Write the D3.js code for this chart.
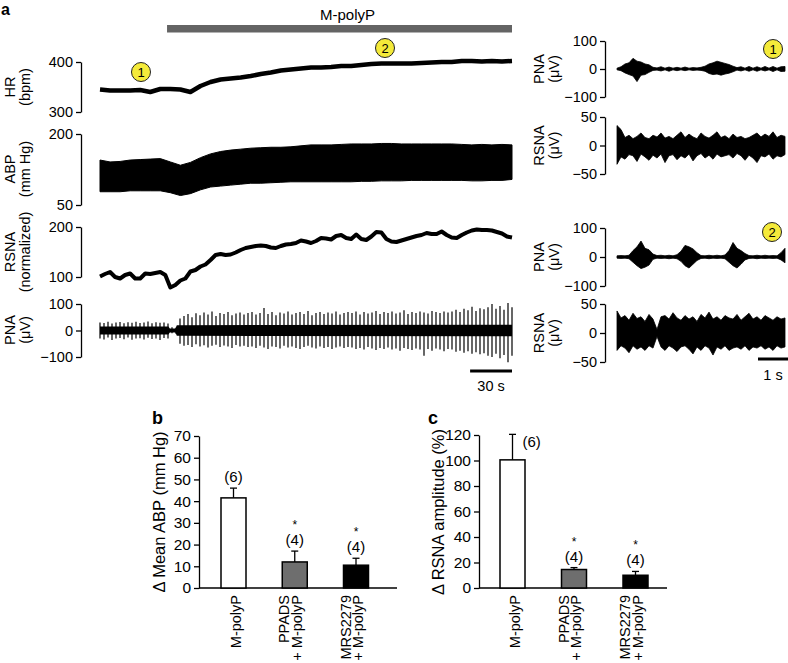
<!DOCTYPE html>
<html><head><meta charset="utf-8">
<script src="https://cdn.jsdelivr.net/npm/d3@7"></script>
<style>
body{margin:0;background:#fff;}
svg{display:block;font-family:"Liberation Sans",Arial,Helvetica,sans-serif;}
</style></head><body>
<svg id="fig" width="788" height="663"></svg>
<script>
// ---------------- DATA ----------------
const totalSec = 295;          // left traces span (s)
const drugStart = 48;          // M-polyP start (s)
const rightSec = 5.7;          // right traces span (s)

// HR (bpm), evenly sampled over totalSec
const hrVals = [345,343,343,343,344,340,346,346,345,340,352,360,365,367,369,372,376,379,383,385,387,389,389,390,392,392,394,396,397,397,397,397,398,399,400,400,402,402,401,402,401,402];

// ABP envelope (mm Hg)
const abpHi = [145,141,142,145,146,147,148,141,134,140,150,158,163,166,168,170,171,172,172,173,175,177,177,177,178,179,179,179,180,180,179,179,179,179,179,179,178,177,178,177,178,177];
const abpLo = [78,78,78,80,80,80,80,76,70,74,82,88,90,92,94,96,96,97,98,99,99,99,99,99,99,99,100,100,101,101,101,102,102,102,102,102,102,101,101,102,102,104];

// RSNA integrated (normalized)
const rsnaNorm = [101,106,110,100,97,104,107,97,97,107,106,108,110,104,79,84,93,97,111,114,121,125,134,144,146,144,145,149,154,158,160,162,163,162,159,158,162,165,166,168,173,171,168,172,178,177,175,182,184,178,176,185,176,174,181,190,189,176,171,170,173,176,179,182,184,188,186,186,191,184,179,178,184,189,193,195,194,194,193,190,187,181,179];

// PNA (µV) burst peaks, left trace
const pnaUp = [30,28,33,26,30,32,27,31,29,33,28,30,34,27,31,29,30,26,
  12,10,
  45,55,62,50,65,58,68,60,72,55,66,62,70,58,64,68,60,66,
  70,60,66,85,62,70,58,68,64,72,60,66,70,62,74,58,66,70,62,68,64,72,60,66,70,
  66,72,60,70,64,68,74,62,70,66,72,64,68,76,62,70,66,72,68,64,74,70,66,72,68,
  72,78,70,82,76,90,74,84,80,88,100,82,92,78,104,88];
const pnaDown = [-30,-34,-26,-36,-30,-28,-33,-26,-35,-30,-29,-34,-27,-32,-30,-36,-28,-30,
  -10,-12,
  -50,-58,-55,-62,-52,-60,-56,-64,-58,-54,-62,-57,-60,-66,-55,-60,-58,-62,
  -60,-66,-58,-64,-70,-60,-62,-68,-58,-64,-60,-66,-70,-62,-58,-64,-68,-60,-66,-62,-70,-64,-60,-66,-62,
  -64,-70,-66,-72,-62,-68,-74,-66,-70,-64,-72,-68,-76,-66,-70,-74,-68,-72,-95,-70,-76,-68,-72,-78,-70,
  -72,-80,-76,-84,-78,-88,-82,-90,-86,-95,-100,-88,-105,-92,-120,-95];
const pnaCoreT = [0,49,50,54,55,295];
const pnaCoreV = [15,15,8,8,20,22];

// Right panel traces (µV), evenly sampled over rightSec
const pna1Hi = [3,8,18,22,38,28,25,18,15,6,4,8,3,7,3,6,3,7,3,5,4,6,10,18,22,28,24,20,16,10,5,8,3,9,3,8,3,9,3,9,3,8,9];
const pna1Lo = [-3,-6,-14,-20,-25,-45,-22,-20,-12,-5,-4,-7,-3,-8,-3,-6,-3,-6,-3,-5,-4,-5,-8,-16,-20,-18,-22,-18,-15,-10,-4,-7,-3,-8,-3,-8,-3,-7,-3,-9,-3,-9,-8];
const rsna1Hi = [35,28,14,18,12,16,22,14,12,18,15,22,13,16,12,18,24,14,20,15,12,22,16,13,18,24,14,17,12,20,14,16,12,14,18,22,15,20,16,24,14,18,16];
const rsna1Lo = [-33,-20,-24,-16,-18,-28,-15,-20,-26,-17,-22,-15,-30,-18,-16,-25,-18,-22,-15,-27,-18,-14,-22,-17,-24,-15,-20,-18,-16,-22,-14,-18,-26,-17,-22,-30,-18,-20,-15,-24,-18,-20,-16];
const pna2Hi = [4,5,4,6,22,35,55,30,25,10,5,6,4,6,4,8,20,40,35,28,15,5,4,6,4,6,4,7,22,50,30,22,12,5,4,6,4,6,4,5,4,15,30];
const pna2Lo = [-4,-5,-4,-6,-18,-30,-40,-35,-28,-8,-4,-5,-4,-6,-4,-6,-15,-30,-38,-25,-12,-5,-4,-6,-4,-5,-4,-6,-18,-30,-38,-25,-10,-5,-4,-6,-4,-5,-4,-5,-4,-10,-20];
const rsna2Hi = [38,26,30,22,34,25,28,20,32,24,6,28,30,24,35,26,22,30,24,28,20,32,26,36,24,28,22,30,26,24,32,22,28,34,24,28,22,30,26,22,28,24,26];
const rsna2Lo = [-30,-22,-26,-34,-22,-28,-24,-30,-22,-26,-6,-24,-30,-22,-26,-32,-24,-22,-28,-36,-24,-30,-22,-26,-38,-24,-28,-22,-30,-26,-24,-28,-22,-30,-24,-26,-22,-28,-24,-30,-22,-26,-24];

// Bar charts
const barCats = [["M-polyP"],["PPADS","+ M-polyP"],["MRS2279","+ M-polyP"]];
const abpMean = [41.5, 12, 10.5];
const abpSem  = [4.5, 5, 3.2];
const rsnaAmp = [100.5, 14.5, 10];
const rsnaSem = [20, 1.5, 3];
const nLabels = ["(6)","(4)","(4)"];
const sigMarks = ["","*","*"];
const barFills = ["#ffffff","#6e6e6e","#000000"];

// ---------------- DRAW ----------------
const svg = d3.select("#fig");
const FONT = 14.5;

function yAxis(scale, ticks, x, fs){
  const g = svg.append("g").attr("transform",`translate(${x},0)`)
    .call(d3.axisLeft(scale).tickValues(ticks).tickSize(5).tickPadding(3).tickSizeOuter(0));
  g.attr("color","#000");
  g.selectAll("path,line").attr("stroke-width",1.3);
  g.selectAll("text").attr("font-size",fs).attr("font-family",null);
  return g;
}
function vLabel(lines, xs, y, fs){
  lines.forEach((t,k)=>{
    svg.append("text").attr("transform",`translate(${xs[k]},${y}) rotate(-90)`)
      .attr("text-anchor","middle").attr("dy","0.36em").attr("font-size",fs).text(t);
  });
}
function marker(x,y,t){
  svg.append("circle").attr("cx",x).attr("cy",y).attr("r",9.5).attr("fill","#f4ea3a").attr("stroke","#222").attr("stroke-width",1);
  svg.append("text").attr("x",x).attr("y",y).attr("dy","0.36em").attr("text-anchor","middle").attr("font-size",13).text(t);
}

// Panel letter
svg.append("text").attr("x",1).attr("y",15).attr("font-size",16).attr("font-weight","bold").text("a");

// Left time scale
const xL = d3.scaleLinear().domain([0,totalSec]).range([100,512]);
const tIdx = n => i => xL(i*totalSec/(n-1));

// Drug bar
svg.append("rect").attr("x",xL(drugStart)).attr("y",25).attr("width",xL(totalSec)-xL(drugStart)).attr("height",7.5).attr("fill","#646464");
svg.append("text").attr("x",(xL(drugStart)+xL(totalSec))/2 + 8).attr("y",20).attr("text-anchor","middle").attr("font-size",15).text("M-polyP");

// HR
const yHR = d3.scaleLinear().domain([300,400]).range([112,62]);
yAxis(yHR,[300,400],81,FONT);
vLabel(["HR","(bpm)"],[10,25],87,FONT);
svg.append("path").datum(hrVals).attr("fill","none").attr("stroke","#000").attr("stroke-width",4.5)
  .attr("stroke-linejoin","round")
  .attr("d",d3.line().x((d,i)=>tIdx(hrVals.length)(i)).y(d=>yHR(d)));

// ABP
const yABP = d3.scaleLinear().domain([50,200]).range([205,134]);
yAxis(yABP,[50,200],81,FONT);
vLabel(["ABP","(mm Hg)"],[10,25],169,FONT);
svg.append("path").datum(abpHi).attr("fill","#000").attr("stroke","#000").attr("stroke-width",1)
  .attr("d",d3.area().x((d,i)=>tIdx(abpHi.length)(i)).y1(d=>yABP(d)).y0((d,i)=>yABP(abpLo[i])));

// RSNA normalized
const yRN = d3.scaleLinear().domain([100,200]).range([277,227]);
yAxis(yRN,[100,200],81,FONT);
vLabel(["RSNA","(normalized)"],[10,25],252,FONT);
svg.append("path").datum(rsnaNorm).attr("fill","none").attr("stroke","#000").attr("stroke-width",4)
  .attr("stroke-linejoin","round")
  .attr("d",d3.line().x((d,i)=>tIdx(rsnaNorm.length)(i)).y(d=>yRN(d)));

// PNA left
const yPL = d3.scaleLinear().domain([-100,100]).range([357,304]);
yAxis(yPL,[-100,0,100],81,FONT);
vLabel(["PNA","(μV)"],[10,25],330,FONT);
svg.append("path").datum(pnaCoreT).attr("fill","#000")
  .attr("d",d3.area().x(d=>xL(d)).y0((d,i)=>yPL(-pnaCoreV[i])).y1((d,i)=>yPL(pnaCoreV[i])));
svg.append("g").selectAll("line").data(pnaUp).join("line")
  .attr("x1",(d,i)=>tIdx(pnaUp.length)(i)).attr("x2",(d,i)=>tIdx(pnaUp.length)(i))
  .attr("y1",d=>yPL(d)).attr("y2",(d,i)=>yPL(pnaDown[i]))
  .attr("stroke","#000").attr("stroke-width",1.2);
// 30 s scale bar
svg.append("line").attr("x1",xL(totalSec-30)).attr("x2",xL(totalSec)).attr("y1",371).attr("y2",371).attr("stroke","#000").attr("stroke-width",3);
svg.append("text").attr("x",(xL(totalSec-30)+xL(totalSec))/2).attr("y",391).attr("text-anchor","middle").attr("font-size",FONT).text("30 s");

marker(141,72,"1");
marker(385,48,"2");

// Right panels
const xR = d3.scaleLinear().domain([0,rightSec]).range([617,788]);
const rIdx = n => i => xR(i*(rightSec-0.1)/(n-1));
function rightTrace(hi, lo, yDom, yRange, ticks, name){
  const y = d3.scaleLinear().domain(yDom).range(yRange);
  yAxis(y,ticks,605,FONT);
  vLabel([name,"(μV)"],[539,554],(yRange[0]+yRange[1])/2,FONT);
  svg.append("path").datum(hi).attr("fill","#000").attr("stroke","#000").attr("stroke-width",0.8)
    .attr("d",d3.area().x((d,i)=>rIdx(hi.length)(i)).y1(d=>y(d)).y0((d,i)=>y(lo[i])));
}
rightTrace(pna1Hi,pna1Lo,[-100,100],[97,41],[-100,0,100],"PNA");
rightTrace(rsna1Hi,rsna1Lo,[-50,50],[174,117],[-50,0,50],"RSNA");
rightTrace(pna2Hi,pna2Lo,[-100,100],[286,228],[-100,0,100],"PNA");
rightTrace(rsna2Hi,rsna2Lo,[-50,50],[362,304],[-50,0,50],"RSNA");
marker(773,49,"1");
marker(772,232,"2");
svg.append("line").attr("x1",xR(rightSec-1)).attr("x2",xR(rightSec)).attr("y1",359).attr("y2",359).attr("stroke","#000").attr("stroke-width",3);
svg.append("text").attr("x",(xR(rightSec-1)+xR(rightSec))/2).attr("y",380).attr("text-anchor","middle").attr("font-size",FONT).text("1 s");

// Bar charts
function barChart(o){
  const y = d3.scaleLinear().domain(o.dom).range([588,o.top]);
  const x = d3.scalePoint().domain(d3.range(barCats.length)).range(o.centers);
  yAxis(y,o.ticks,o.axisX,15.5);
  svg.append("line").attr("x1",o.axisX).attr("x2",o.xEnd).attr("y1",y(0)).attr("y2",y(0)).attr("stroke","#000").attr("stroke-width",1.3);
  const bw = 25;
  o.vals.forEach((v,i)=>{
    const cx = x(i);
    const et = y(v+o.sem[i]);
    svg.append("line").attr("x1",cx).attr("x2",cx).attr("y1",y(v)).attr("y2",et).attr("stroke","#000").attr("stroke-width",1.3);
    svg.append("line").attr("x1",cx-3.5).attr("x2",cx+3.5).attr("y1",et).attr("y2",et).attr("stroke","#000").attr("stroke-width",1.3);
    svg.append("rect").attr("x",cx-bw/2).attr("y",y(v)).attr("width",bw).attr("height",y(0)-y(v))
      .attr("fill",barFills[i]).attr("stroke","#000").attr("stroke-width",1.5);
    if(o.rightFirst && i===0){
      svg.append("text").attr("x",cx+10).attr("y",et+13).attr("font-size",15).text(nLabels[i]);
    } else {
      svg.append("text").attr("x",cx).attr("y",et-6).attr("text-anchor","middle").attr("font-size",15).text(nLabels[i]);
      if(sigMarks[i]) svg.append("text").attr("x",cx).attr("y",et-22).attr("text-anchor","middle").attr("font-size",12).text(sigMarks[i]);
    }
    const L = barCats[i];
    L.forEach((t,k)=>{
      const lx = cx + 2 - (L.length-1-k)*12.5;
      svg.append("text").attr("transform",`translate(${lx},595) rotate(-90)`)
        .attr("text-anchor","end").attr("dy","0.36em").attr("font-size",14.5).text(t);
    });
  });
  vLabel([o.title],[o.titleX],512,16.5);
  svg.append("text").attr("x",o.letterX).attr("y",424).attr("font-size",18).attr("font-weight","bold").text(o.letter);
}
barChart({vals:abpMean, sem:abpSem, dom:[0,70], top:436, ticks:d3.range(0,71,10), axisX:199, xEnd:397,
  centers:[233.5,356], title:"Δ Mean ABP (mm Hg)", titleX:159, letter:"b", letterX:152, rightFirst:false});
barChart({vals:rsnaAmp, sem:rsnaSem, dom:[0,120], top:435, ticks:d3.range(0,121,20), axisX:479, xEnd:667,
  centers:[512.5,635.5], title:"Δ RSNA amplitude (%)", titleX:438, letter:"c", letterX:428, rightFirst:true});
</script>
</body></html>
